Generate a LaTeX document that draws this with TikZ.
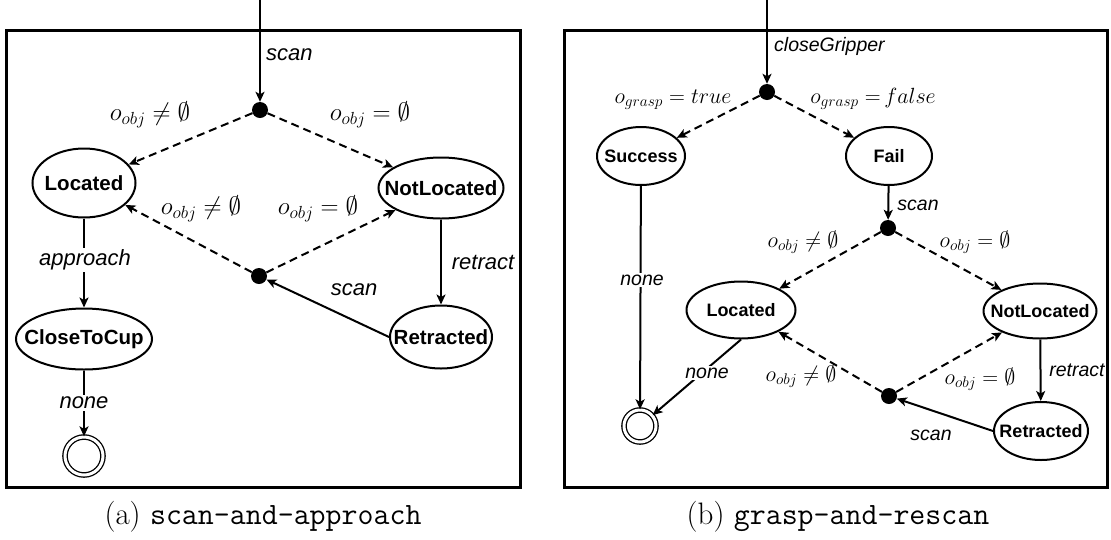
\RequirePackage{fix-cm}
\documentclass[tikz,border=0pt]{standalone}
\usepackage{fontspec}
\newfontfamily\lsans{Liberation Sans}
\usetikzlibrary{arrows.meta,shapes.geometric}
\begin{document}
\begin{tikzpicture}[x=1pt,y=-1pt,
  stL/.style={ellipse, draw, line width=2pt, inner xsep=-20pt, inner ysep=0pt, font=\lsans\bfseries\fontsize{20.5}{24}\selectfont},
  stR/.style={ellipse, draw, line width=2pt, inner xsep=-20pt, inner ysep=0pt, font=\lsans\bfseries\fontsize{18}{21}\selectfont},
  dotn/.style={circle, fill=black, inner sep=0pt, minimum size=16pt},
  fin/.style={circle, draw, double, double distance=3pt, line width=1.3pt, inner sep=0pt},
  arr/.style={-{Stealth[length=10pt,width=9pt,inset=2.5pt]}, line width=2pt},
  darr/.style={arr, dash pattern=on 8pt off 5pt},
  lbL/.style={font=\lsans\itshape\fontsize{22}{26}\selectfont, inner sep=2pt},
  lbR/.style={font=\lsans\itshape\fontsize{19.5}{23}\selectfont, inner sep=2pt},
  lbw/.style={fill=white},
  mL/.style={font=\fontsize{25}{29}\selectfont, inner sep=1pt},
  mR/.style={font=\fontsize{22}{26}\selectfont, inner sep=1pt},
  frame/.style={draw, line width=3pt},
  captxt/.style={font=\fontsize{31}{35}\selectfont, anchor=base, inner sep=0pt}]
\useasboundingbox (0,0) rectangle (1111,539);

% ---------------- panel (a) ----------------
\draw[frame] (6,30) rectangle (520,487);
\coordinate (inA) at (260,0);
\node[dotn] (a1) at (260,110) {};
\node[stL, minimum width=103pt, minimum height=69pt] (locA) at (84,183) {Located};
\node[stL, minimum width=125pt, minimum height=61pt] (nlocA) at (441,188) {NotLocated};
\node[dotn] (b1) at (259,276) {};
\node[stL, minimum width=136pt, minimum height=61pt] (cupA) at (84,339) {CloseToCup};
\node[stL, minimum width=102pt, minimum height=63pt] (retA) at (441,337) {Retracted};
\node[fin, minimum size=38pt] (finA) at (84,456) {};

\draw[arr] (inA) -- (a1);
\draw[darr] (a1) -- (locA);
\draw[darr] (a1) -- (nlocA);
\draw[darr] (b1) -- (locA);
\draw[darr] (b1) -- (nlocA);
\draw[arr] (locA) -- (cupA);
\draw[arr] (cupA) -- (finA);
\draw[arr] (nlocA) -- (retA);
\draw[arr] (retA.west) -- (b1);

\node[lbL, anchor=west] (tscanA) at (264,55) {scan};
\node[mL] (g1) at (150,115) {$o_{obj} \neq \emptyset$};
\node[mL] (g2) at (370,115) {$o_{obj} = \emptyset$};
\node[mL] (g3) at (201,209) {$o_{obj} \neq \emptyset$};
\node[mL] (g4) at (318,209) {$o_{obj} = \emptyset$};
\node[lbL, lbw] (tappr) at (85,260) {approach};
\node[lbL] (tretrA) at (483,262) {retract};
\node[lbL] (tscanA2) at (354,290) {scan};
\node[lbL, lbw] (tnoneA) at (84,403) {none};
\node[captxt] (capA) at (263,524) {(a) \texttt{scan-and-approach}};

% ---------------- panel (b) ----------------
\draw[frame] (564,30) rectangle (1107,487);
\coordinate (inB) at (767,0);
\node[dotn] (c1) at (767,92) {};
\node[stR, minimum width=88pt, minimum height=58pt] (succ) at (641,156) {Success};
\node[stR, minimum width=86pt, minimum height=58pt] (fail) at (889,156) {Fail};
\node[dotn] (d1) at (888,228) {};
\node[stR, minimum width=109pt, minimum height=57pt] (locB) at (741,310) {Located};
\node[stR, minimum width=113pt, minimum height=55pt] (nlocB) at (1040,311) {NotLocated};
\node[dotn] (e1) at (889,396) {};
\node[stR, minimum width=94pt, minimum height=58pt] (retB) at (1041,431) {Retracted};
\node[fin, minimum size=32pt] (finB) at (640,426) {};

\draw[arr] (inB) -- (c1);
\draw[darr] (c1) -- (succ);
\draw[darr] (c1) -- (fail);
\draw[arr] (fail) -- (d1);
\draw[darr] (d1) -- (locB);
\draw[darr] (d1) -- (nlocB);
\draw[arr] (succ) -- (finB);
\draw[arr] (locB.south) -- (finB);
\draw[arr] (nlocB) -- (retB);
\draw[arr] (retB.west) -- (e1);
\draw[darr] (e1) -- (locB);
\draw[darr] (e1) -- (nlocB);

\node[lbR, anchor=west] (tclose) at (772,46) {closeGripper};
\node[mR] (h1) at (673,100) {$o_{grasp} = true$};
\node[mR] (h2) at (873,99) {$o_{grasp} =\mkern-2mu false$};
\node[lbR] (tscanB) at (918,205) {scan};
\node[mR] (h3) at (803,242) {$o_{obj} \neq \emptyset$};
\node[mR] (h4) at (975,242) {$o_{obj} = \emptyset$};
\node[lbR, lbw] (tnoneB) at (642,280) {none};
\node[lbR, lbw] (tnoneC) at (707,373) {none};
\node[mR] (h5) at (801,376) {$o_{obj} \neq \emptyset$};
\node[mR] (h6) at (980,379) {$o_{obj} = \emptyset$};
\node[lbR] (tretrB) at (1077,370) {retract};
\node[lbR] (tscanB2) at (931,435) {scan};
\node[captxt] (capB) at (838,524) {(b) \texttt{grasp-and-rescan}};
\end{tikzpicture}
\end{document}
